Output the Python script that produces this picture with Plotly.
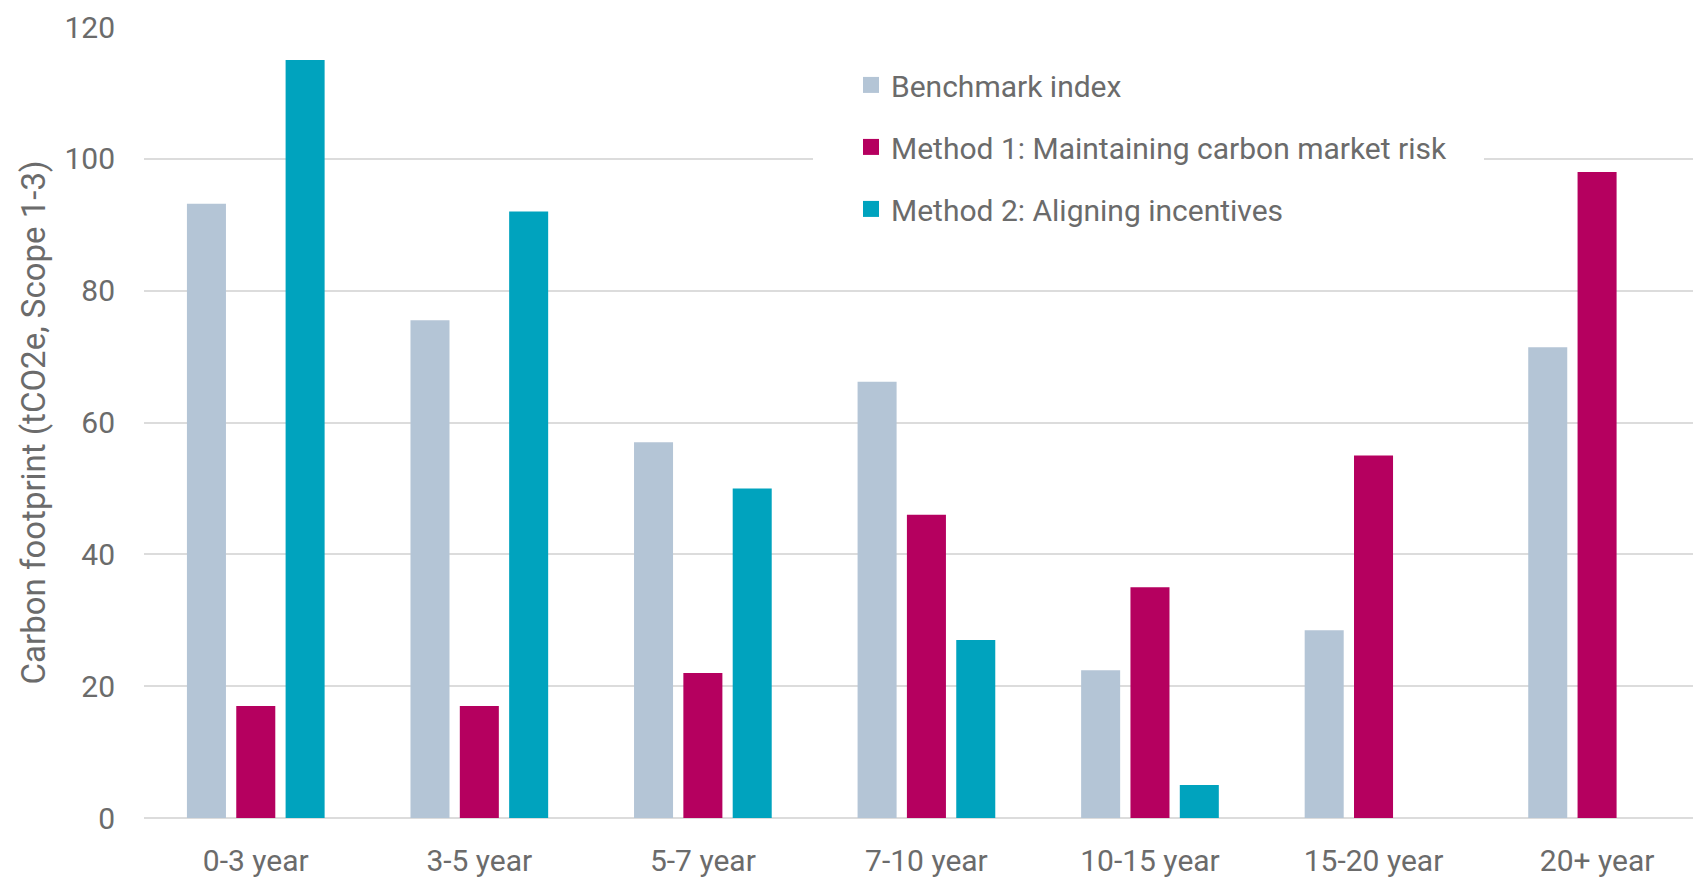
import plotly.graph_objects as go

# Maturity buckets and carbon footprint per approach (tCO2e, Scope 1-3)
categories = ["0-3 year", "3-5 year", "5-7 year", "7-10 year", "10-15 year", "15-20 year", "20+ year"]
benchmark = [93.2, 75.5, 57.0, 66.2, 22.4, 28.5, 71.4]
method1 = [17.0, 17.0, 22.0, 46.0, 35.0, 55.0, 98.0]
method2 = [115.0, 92.0, 50.0, 27.0, 5.0, None, None]

series_names = [
    "Benchmark index",
    "Method 1: Maintaining carbon market risk",
    "Method 2: Aligning incentives",
]
series_values = [benchmark, method1, method2]
series_colors = ["#b4c5d6", "#b5005f", "#00a3be"]

y_ticks = [0, 20, 40, 60, 80, 100, 120]

FONT = "Roboto, 'Open Sans', sans-serif"
TEXT_GREY = "#6b6b6b"
GRID_GREY = "#dcdcdc"

W, H = 1693, 878
M_L, M_R, M_T, M_B = 144, 0, 27, 58

fig = go.Figure()

for name, vals, col in zip(series_names, series_values, series_colors):
    fig.add_trace(go.Bar(
        x=categories, y=vals, name=name,
        marker=dict(color=col, line=dict(width=0)),
        showlegend=False,
    ))

# Square swatches for the legend
for i, (name, col) in enumerate(zip(series_names, series_colors)):
    fig.add_trace(go.Scatter(
        x=[None], y=[None], mode="markers", name=name,
        marker=dict(symbol="square", size=18, color=col),
        legendgroup=f"g{i}", showlegend=True,
    ))

# Category slot geometry (in axis units) for the x range
cat_px = 223.55
x_max = (W - M_L - M_R) / cat_px - 0.5

# White panel behind the legend that interrupts the gridline
fig.add_shape(
    type="rect", xref="x", yref="y",
    x0=(813 - M_L) / cat_px - 0.5, x1=(1484 - M_L) / cat_px - 0.5,
    y0=88, y1=112,
    fillcolor="white", line=dict(width=0), layer="between",
)

fig.update_layout(
    width=W, height=H,
    margin=dict(l=M_L, r=M_R, t=M_T, b=M_B, pad=0),
    paper_bgcolor="white", plot_bgcolor="white",
    barmode="group", bargap=0.338, bargroupgap=0.209,
    font=dict(family=FONT, size=30, color=TEXT_GREY),
    showlegend=True,
    legend=dict(
        x=(851 - M_L) / (W - M_L - M_R), xanchor="left",
        y=1 - 32 / (H - M_T - M_B), yanchor="top",
        bgcolor="rgba(0,0,0,0)", borderwidth=0,
        font=dict(family=FONT, size=30, color=TEXT_GREY),
        tracegroupgap=20, itemwidth=30,
    ),
    xaxis=dict(
        type="category", range=[-0.5, x_max],
        showgrid=False, showline=False, zeroline=False,
        ticks="", ticklabelstandoff=22,
        tickfont=dict(family=FONT, size=30, color=TEXT_GREY),
    ),
    yaxis=dict(
        range=[0, 120], tickvals=y_ticks,
        showgrid=True, gridcolor=GRID_GREY, gridwidth=1.5,
        zeroline=True, zerolinecolor=GRID_GREY, zerolinewidth=1.5,
        showline=False, ticks="", ticklabelstandoff=28,
        tickfont=dict(family=FONT, size=30, color=TEXT_GREY),
        title=dict(text="Carbon footprint (tCO2e, Scope 1-3)",
                   font=dict(family=FONT, size=33, color=TEXT_GREY),
                   standoff=8),
    ),
)

fig.write_html("out.html")
